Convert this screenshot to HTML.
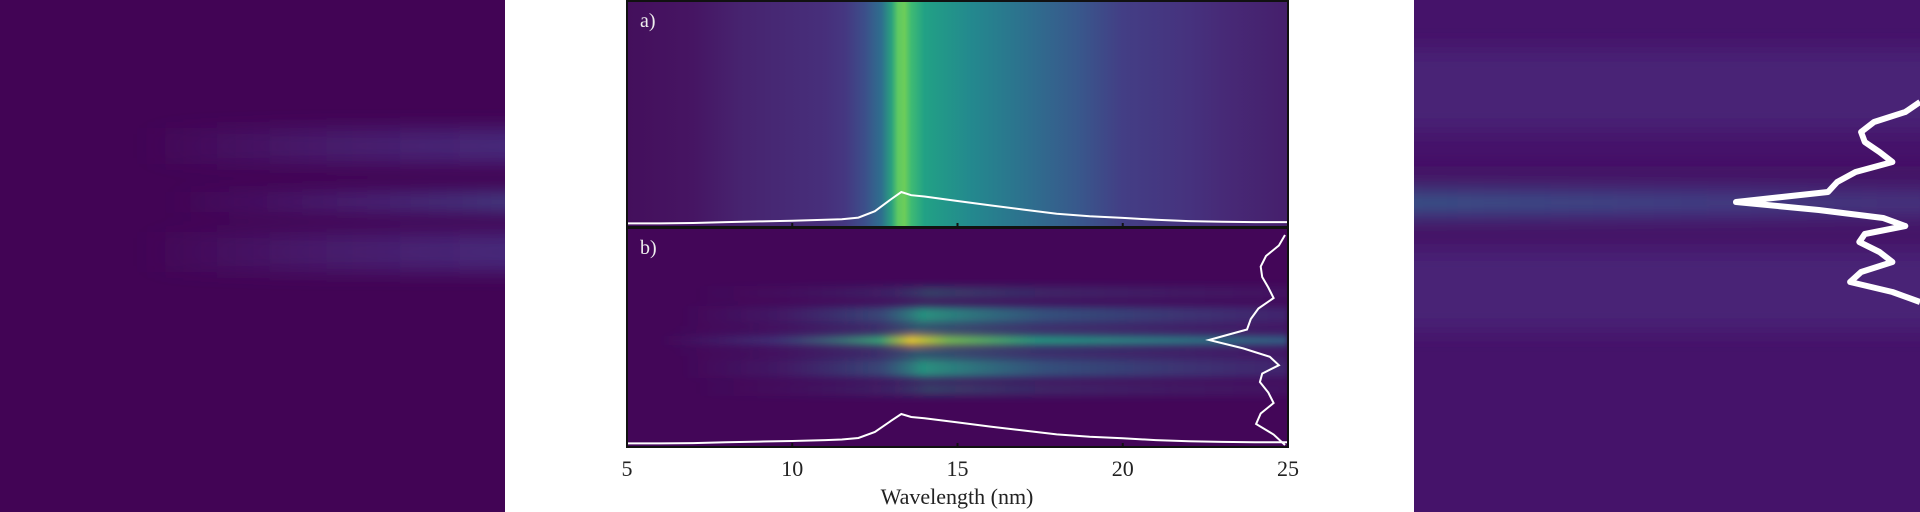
<!DOCTYPE html>
<html><head><meta charset="utf-8"><style>
html,body{margin:0;padding:0;background:#fff;width:1920px;height:512px;overflow:hidden}
svg{display:block}
text{font-family:"Liberation Serif",serif}
</style></head><body>
<svg id="fig" width="1920" height="512" viewBox="0 0 1920 512">
<defs>
<filter id="blurV" x="-5%" y="-100%" width="110%" height="300%"><feGaussianBlur stdDeviation="3 4"/></filter>
<filter id="blurL" x="-10%" y="-100%" width="120%" height="300%"><feGaussianBlur stdDeviation="12 9"/></filter>
<filter id="blurS" x="-5%" y="-100%" width="110%" height="300%"><feGaussianBlur stdDeviation="4 10"/></filter>
<linearGradient id="gA" x1="0" x2="1" y1="0" y2="0">
<stop offset="0" stop-color="#440f5c"/><stop offset="0.1" stop-color="#461563"/>
<stop offset="0.17" stop-color="#47236f"/><stop offset="0.3" stop-color="#472f7b"/>
<stop offset="0.33" stop-color="#453781"/><stop offset="0.36" stop-color="#3c4f8a"/>
<stop offset="0.385" stop-color="#2e6f8e"/><stop offset="0.4" stop-color="#2aa07f"/>
<stop offset="0.41" stop-color="#5ec962"/><stop offset="0.42" stop-color="#6ccd5a"/>
<stop offset="0.43" stop-color="#3fbb73"/><stop offset="0.45" stop-color="#22a185"/>
<stop offset="0.52" stop-color="#23898e"/><stop offset="0.6" stop-color="#2d718e"/>
<stop offset="0.68" stop-color="#38598c"/><stop offset="0.75" stop-color="#433e85"/>
<stop offset="0.85" stop-color="#46327e"/><stop offset="0.9" stop-color="#472a77"/>
<stop offset="1" stop-color="#461f6c"/></linearGradient>
<linearGradient id="bandB" x1="0" x2="1"><stop offset="0" stop-color="#3b5a8c" stop-opacity="0"/><stop offset="0.15" stop-color="#3b528b" stop-opacity="0.25"/><stop offset="0.33" stop-color="#2c7a8e" stop-opacity="0.65"/><stop offset="0.4" stop-color="#22a884" stop-opacity="1"/><stop offset="0.6" stop-color="#2a788e" stop-opacity="0.75"/><stop offset="1" stop-color="#3e4a89" stop-opacity="0.5"/></linearGradient>
<linearGradient id="bandC" x1="0" x2="1"><stop offset="0" stop-color="#3b528b" stop-opacity="0"/><stop offset="0.18" stop-color="#3b528b" stop-opacity="0.6"/><stop offset="0.35" stop-color="#35b779" stop-opacity="1"/><stop offset="0.4" stop-color="#fde725" stop-opacity="1"/><stop offset="0.46" stop-color="#7ad151" stop-opacity="1"/><stop offset="0.6" stop-color="#22a884" stop-opacity="1"/><stop offset="1" stop-color="#2c728e" stop-opacity="0.9"/></linearGradient>
<linearGradient id="bandL" x1="0" x2="1"><stop offset="0" stop-color="#4a2a7a" stop-opacity="0"/><stop offset="0.4" stop-color="#4a2a7a" stop-opacity="0.55"/><stop offset="1" stop-color="#473283" stop-opacity="0.9"/></linearGradient>
<linearGradient id="bandLc" x1="0" x2="1"><stop offset="0" stop-color="#4a2a7a" stop-opacity="0"/><stop offset="0.5" stop-color="#482d7c" stop-opacity="0.8"/><stop offset="1" stop-color="#3e4c8a" stop-opacity="1"/></linearGradient>
<linearGradient id="bandR" x1="0" x2="1"><stop offset="0" stop-color="#34658e"/><stop offset="0.5" stop-color="#3d4e8a"/><stop offset="1" stop-color="#463a80"/></linearGradient>
</defs>

<svg x="0" y="0" width="505" height="512" overflow="hidden">
<rect x="0" y="0" width="505" height="512" fill="#420455"/>
<g filter="url(#blurL)">
<rect x="140" y="128" width="420" height="36" fill="url(#bandL)"/>
<rect x="170" y="192" width="390" height="20" fill="url(#bandLc)"/>
<rect x="140" y="232" width="420" height="40" fill="url(#bandL)"/>
</g>
</svg>

<svg x="1414" y="0" width="506" height="512" overflow="hidden">
<g transform="translate(-1414,0)">
<rect x="1414" y="0" width="506" height="512" fill="#45136a"/>
<g filter="url(#blurS)">
<rect x="1380" y="50" width="560" height="80" fill="#4a2a7a" opacity="0.75"/>
<rect x="1380" y="165" width="560" height="16" fill="#410f60" opacity="0.7"/>
<rect x="1380" y="193" width="560" height="20" fill="url(#bandR)"/>
<rect x="1380" y="228" width="560" height="14" fill="#410f60" opacity="0.7"/>
<rect x="1380" y="250" width="560" height="80" fill="#4a2a7a" opacity="0.75"/>
</g>
<path id="rightProfile" fill="none" stroke="#fff" stroke-width="6" stroke-linejoin="round"/>
</g>
</svg>

<g>
<rect x="627" y="1" width="661" height="226" fill="url(#gA)"/>
<text x="640" y="27" font-size="20" fill="#eee">a)</text>
<path id="profA" fill="none" stroke="#fff" stroke-width="2"/>
<rect x="627" y="1" width="661" height="226" fill="none" stroke="#111" stroke-width="2"/>
</g>

<g>
<rect x="627" y="228" width="661" height="219" fill="#430658"/>
<svg x="627" y="228" width="661" height="219" overflow="hidden">
<g filter="url(#blurV)" transform="translate(-627,-228)">
<rect x="690" y="286" width="598" height="14" fill="url(#bandB)" opacity="0.35"/>
<rect x="680" y="306" width="608" height="18" fill="url(#bandB)" opacity="0.85"/>
<rect x="670" y="326" width="618" height="8" fill="url(#bandB)" opacity="0.6"/>
<rect x="660" y="336" width="628" height="9" fill="url(#bandC)"/>
<rect x="670" y="348" width="618" height="8" fill="url(#bandB)" opacity="0.6"/>
<rect x="680" y="358" width="608" height="20" fill="url(#bandB)" opacity="0.85"/>
<rect x="690" y="382" width="598" height="14" fill="url(#bandB)" opacity="0.35"/>
</g>
</svg>
<text x="640" y="254" font-size="20" fill="#eee">b)</text>
<path id="profB" fill="none" stroke="#fff" stroke-width="2"/>
<path id="profBV" fill="none" stroke="#fff" stroke-width="2"/>
<rect x="627" y="228" width="661" height="219" fill="none" stroke="#111" stroke-width="2"/>
</g>

<g id="xaxis"></g>
<text x="957" y="504" font-size="22" text-anchor="middle" fill="#222">Wavelength (nm)</text>
</svg>
<script>
const wavelengths=[5,6,7,8,9,10,11,11.5,12,12.5,13,13.3,13.6,14,15,16,17,18,19,20,21,22,23,24,25];
const spectrum=[0.02,0.02,0.03,0.06,0.08,0.1,0.13,0.15,0.2,0.4,0.78,1.0,0.9,0.86,0.72,0.58,0.45,0.32,0.24,0.19,0.13,0.09,0.07,0.06,0.06];
const vOffsets=[-100,-90,-80,-70,-60,-50,-40,-30,-20,-10,0,8,16,24,32,40,50,60,70,80,90,100];
const vProfile=[0,0.08,0.25,0.32,0.3,0.22,0.15,0.35,0.45,0.5,1.0,0.55,0.2,0.08,0.3,0.33,0.22,0.15,0.32,0.38,0.15,0];
const xTicks=[5,10,15,20,25];
const X0=627,X1=1288,XMIN=5,XMAX=25;
function xs(w){return X0+(w-XMIN)/(XMAX-XMIN)*(X1-X0);}
function specPath(base,h){return wavelengths.map((w,i)=>(i?'L':'M')+xs(w).toFixed(1)+' '+(base-spectrum[i]*h).toFixed(1)).join(' ');}
document.getElementById('profA').setAttribute('d',specPath(224,32));
document.getElementById('profB').setAttribute('d',specPath(444,30));
function vPath(xr,cy,sy,h){return vOffsets.map((o,i)=>(i?'L':'M')+(xr-vProfile[i]*h).toFixed(1)+' '+(cy+o*sy).toFixed(1)).join(' ');}
document.getElementById('profBV').setAttribute('d',vPath(1285,340,1.05,76));
document.getElementById('rightProfile').setAttribute('d',vPath(1920,202,1.0,184));
const ax=document.getElementById('xaxis');
const NS='http://www.w3.org/2000/svg';
xTicks.forEach(t=>{
 const x=xs(t);
 [227,447].forEach(y=>{
  const m=document.createElementNS(NS,'line');
  
  
  m.setAttribute('x1',x);m.setAttribute('x2',x);m.setAttribute('y1',y-4);m.setAttribute('y2',y);
  m.setAttribute('stroke','#111');m.setAttribute('stroke-width','2');
  ax.appendChild(m);
 });
 const tx=document.createElementNS(NS,'text');
 
 
 tx.setAttribute('x',x);tx.setAttribute('y',476);tx.setAttribute('font-size','22');
 tx.setAttribute('text-anchor','middle');tx.setAttribute('fill','#222');
 tx.textContent=t;ax.appendChild(tx);
});
</script>
</body></html>
